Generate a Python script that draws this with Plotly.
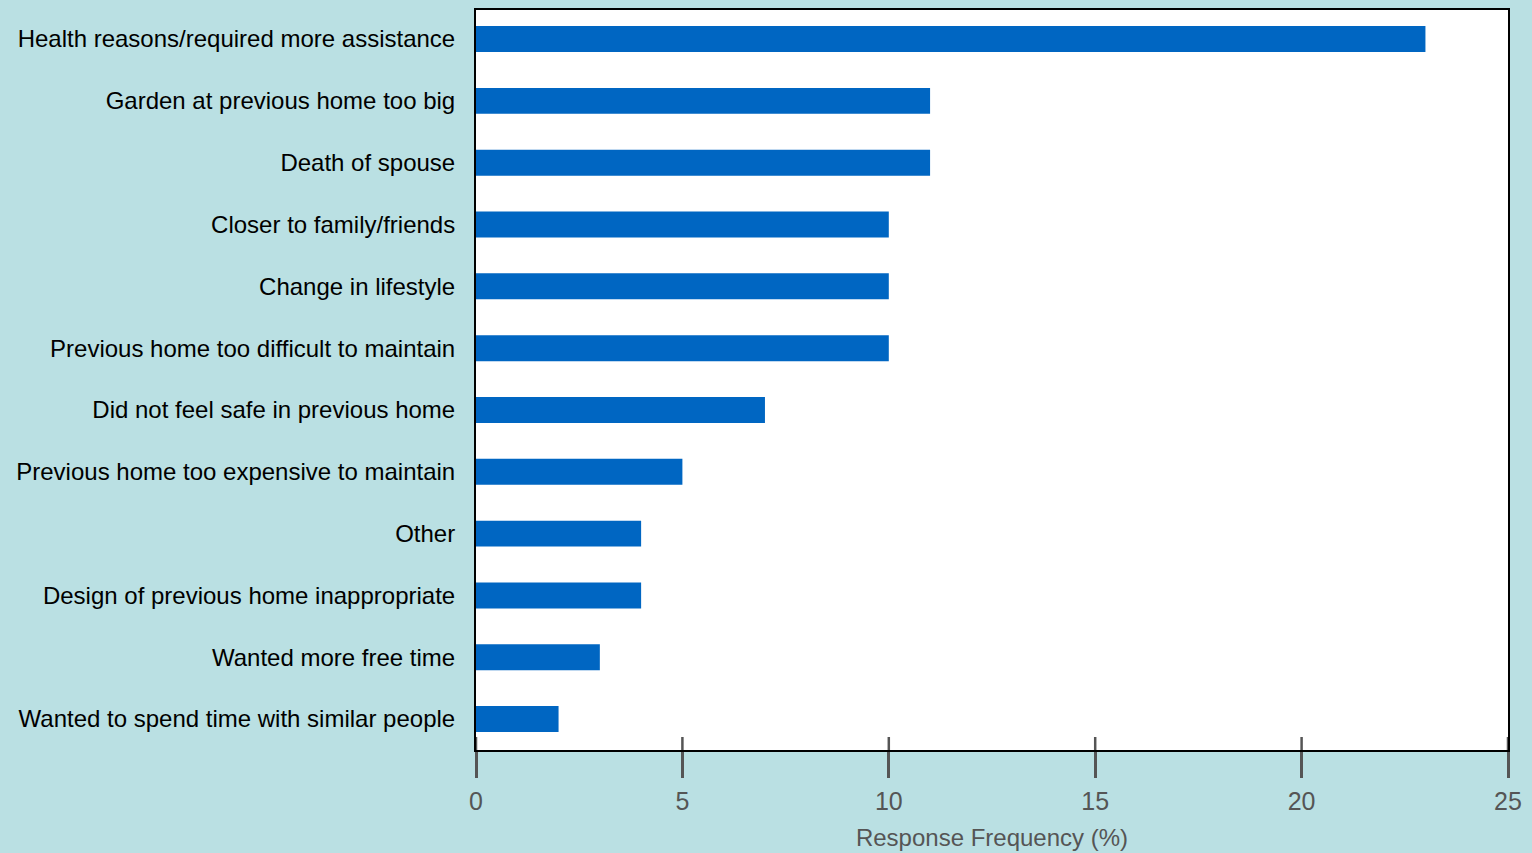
import plotly.graph_objects as go

categories = [
    "Health reasons/required more assistance",
    "Garden at previous home too big",
    "Death of spouse",
    "Closer to family/friends",
    "Change in lifestyle",
    "Previous home too difficult to maintain",
    "Did not feel safe in previous home",
    "Previous home too expensive to maintain",
    "Other",
    "Design of previous home inappropriate",
    "Wanted more free time",
    "Wanted to spend time with similar people",
]
values = [23, 11, 11, 10, 10, 10, 7, 5, 4, 4, 3, 2]
x_ticks = [0, 5, 10, 15, 20, 25]

BG = "#bae0e3"
BAR = "#0066c2"
GRAY = "#555555"

fig = go.Figure(go.Bar(
    x=values, y=categories, orientation="h",
    marker=dict(color=BAR, line=dict(width=0)),
    width=0.42,
))

# inner part of the crossing tick marks
for t in x_ticks:
    fig.add_shape(type="line", xref="x", yref="paper", x0=t, x1=t, y0=0, y1=13/740,
                  line=dict(color=GRAY, width=2.5), layer="above")

fig.update_layout(
    width=1532, height=853,
    margin=dict(l=476, r=24, t=10, b=103),
    paper_bgcolor=BG, plot_bgcolor="white",
    showlegend=False,
    font=dict(family="Liberation Sans, Arial, sans-serif", size=24, color="black"),
)
fig.update_xaxes(
    range=[0, 25], tickvals=x_ticks, ticktext=[str(t) for t in x_ticks],
    showgrid=False, zeroline=False, automargin=False,
    showline=True, linecolor="black", linewidth=2, mirror=True,
    ticks="outside", ticklen=26, tickwidth=2.5, tickcolor=GRAY,
    tickfont=dict(color=GRAY, size=25),
    ticklabelstandoff=2,
    title=dict(text="Response Frequency (%)", font=dict(color=GRAY, size=24), standoff=15),
)
fig.update_yaxes(
    categoryorder="array", categoryarray=categories[::-1],
    range=[-0.5, len(categories) - 0.53],
    showgrid=False, zeroline=False, automargin=False,
    showline=True, linecolor="black", linewidth=2, mirror=True,
    ticks="", tickfont=dict(color="black", size=24),
    ticklabelstandoff=14,
)

fig.write_html("out.html", config={"displayModeBar": False})

# remove default page margin so the figure sits at the window origin
with open("out.html", "r", encoding="utf-8") as f:
    html = f.read()
html = html.replace("<body>", '<body style="margin:0;padding:0;">', 1)
with open("out.html", "w", encoding="utf-8") as f:
    f.write(html)
